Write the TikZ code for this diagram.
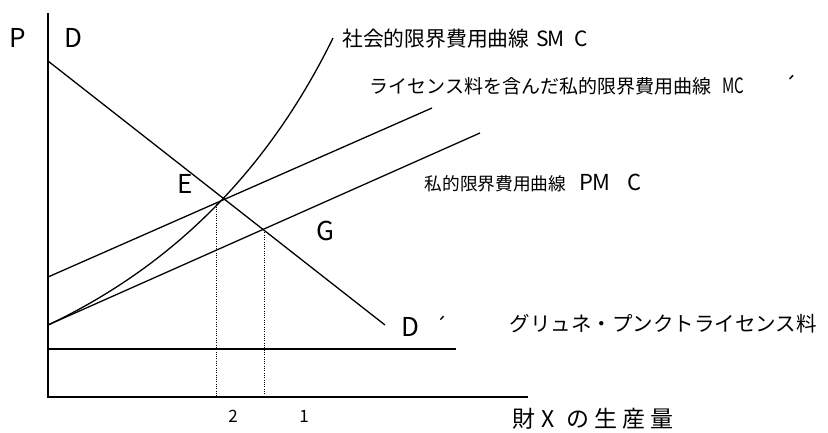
\documentclass[tikz,border=0pt]{standalone}
\usepackage{fontspec}
\newfontfamily\jp{Noto Sans CJK JP}
\newcommand\cbox[2]{\makebox[#1][l]{#2}}
\newcommand\fs[1]{\fontsize{#1}{#1}\selectfont}
\begin{document}
\begin{tikzpicture}[x=1pt,y=-1pt,
  axisline/.style={line width=1.6pt},
  curveline/.style={line width=1.3pt},
  guide/.style={line width=1pt,dash pattern=on 1pt off 1.3pt},
  biglbl/.style={font=\jp\fs{26},inner sep=0pt},
  jplbl/.style={font=\jp,inner sep=0pt,anchor=west},
  numlbl/.style={font=\jp\fs{17},inner sep=0pt}]
\useasboundingbox (0,0) rectangle (828,432);
% key points
\coordinate (ytop) at (48,13);
\coordinate (O) at (48,397);
\coordinate (xend) at (528,397);
\coordinate (lic0) at (48,349);
\coordinate (lic1) at (456,349);
\coordinate (D0) at (48,61);
\coordinate (D1) at (385,325);
\coordinate (S0) at (48,325);
\coordinate (S1) at (333,38);
\coordinate (M0) at (48,277);
\coordinate (M1) at (432,108);
\coordinate (P1) at (480,133);
\coordinate (E) at (216,202);
\coordinate (Eb) at (216,397);
\coordinate (G) at (264,230);
\coordinate (Gb) at (264,397);
% axes and licence line
\draw[axisline] (ytop) -- (O) -- (xend);
\draw[axisline] (lic0) -- (lic1);
% curves
\draw[curveline] (D0) -- (D1);
\draw[curveline] (M0) -- (M1);
\draw[curveline] (S0) -- (P1);
\draw[curveline] (S0) .. controls (173.3,265.7) and (268.3,170) .. (S1);
% guides
\draw[guide] (E) -- (Eb);
\draw[guide] (G) -- (Gb);
% labels
\node[biglbl] (lP) at (18,38) {P};
\node[biglbl] (lD) at (73.5,38) {D};
\node[biglbl] (lE) at (185,184) {E};
\node[biglbl] (lG) at (325,231) {G};
\node[biglbl,anchor=west] (lDp) at (401,326) {\cbox{34pt}{D}\raisebox{3pt}{\fs{20}´}};
\node[jplbl] (lSMC) at (342,39) {{\fs{20.8}社会的限界費用曲線}\hspace{6.8pt}{\fs{21}\cbox{11pt}{S}\cbox{27pt}{M}C}};
\node[jplbl] (lMC) at (369.5,85) {{\fs{19}ライセンス料を含んだ私的限界費用曲線}\hspace{11pt}{\fs{21}\cbox{62pt}{\scalebox{0.72}[1]{MC}}´}};
\node[jplbl] (lPMC) at (424.5,183) {{\fs{17.7}私的限界費用曲線}\hspace{13.4pt}{\fs{22}\cbox{13pt}{P}\cbox{35pt}{M}C}};
\node[jplbl] (lLic) at (509.5,324) {\fs{20.5}グリュネ・プンクトライセンス料};
\node[jplbl] (lX) at (512,419) {\fs{23}\cbox{29pt}{財}\cbox{25pt}{X}\cbox{28pt}{の}\cbox{28pt}{生}\cbox{28pt}{産}量};
\node[numlbl] (l2) at (233,416) {2};
\node[numlbl] (l1) at (304,416) {1};
\end{tikzpicture}
\end{document}
